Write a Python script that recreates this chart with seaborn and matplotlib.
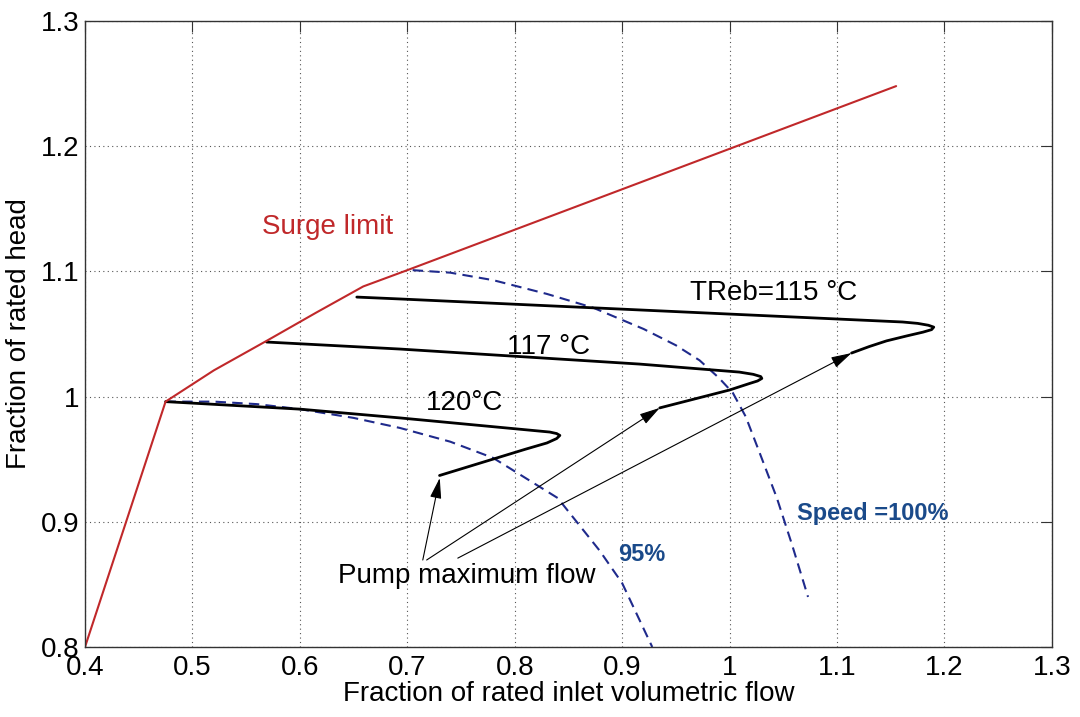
import matplotlib
matplotlib.use("Agg")
import matplotlib.pyplot as plt
import seaborn as sns
import pandas as pd

# ---- data ----
surge_x = [0.40, 0.475, 0.52, 0.57, 0.615, 0.659, 0.70, 1.155]
surge_y = [0.80, 0.996, 1.021, 1.045, 1.067, 1.088, 1.101, 1.248]

speed100_x = [0.705, 0.74, 0.78, 0.83, 0.873, 0.92, 0.95, 0.972, 0.99, 1.003, 1.015, 1.028, 1.044, 1.058, 1.073]
speed100_y = [1.101, 1.099, 1.093, 1.082, 1.071, 1.054, 1.041, 1.029, 1.015, 1.003, 0.984, 0.955, 0.919, 0.882, 0.840]

speed95_x = [0.475, 0.52, 0.56, 0.60, 0.65, 0.693, 0.74, 0.78, 0.84, 0.879, 0.90, 0.928]
speed95_y = [0.996, 0.996, 0.994, 0.990, 0.983, 0.975, 0.964, 0.951, 0.919, 0.877, 0.851, 0.800]

t115_x = [0.653, 0.693, 1.161, 1.175, 1.185, 1.190, 1.188, 1.180, 1.165, 1.146, 1.130, 1.1135]
t115_y = [1.0795, 1.078, 1.0596, 1.0585, 1.057, 1.0555, 1.0535, 1.0515, 1.0485, 1.0445, 1.040, 1.0348]

t117_x = [0.569, 0.693, 0.916, 1.009, 1.022, 1.029, 1.030, 1.026, 1.0186, 1.000, 0.935]
t117_y = [1.0436, 1.038, 1.026, 1.0196, 1.0178, 1.016, 1.0145, 1.0125, 1.0105, 1.0053, 0.991]

t120_x = [0.475, 0.60, 0.693, 0.8326, 0.839, 0.842, 0.839, 0.830, 0.810, 0.7795, 0.730]
t120_y = [0.996, 0.990, 0.983, 0.9717, 0.9705, 0.969, 0.9665, 0.963, 0.958, 0.950, 0.937]

pump_tail = [(0.7144, 0.8695), (0.718, 0.8695), (0.747, 0.871)]
pump_head = [(0.7302, 0.935), (0.935, 0.991), (1.1135, 1.0348)]

x_ticks = [0.4, 0.5, 0.6, 0.7, 0.8, 0.9, 1.0, 1.1, 1.2, 1.3]
y_ticks = [0.8, 0.9, 1.0, 1.1, 1.2, 1.3]
x_ticklabels = ["0.4", "0.5", "0.6", "0.7", "0.8", "0.9", "1", "1.1", "1.2", "1.3"]
y_ticklabels = ["0.8", "0.9", "1", "1.1", "1.2", "1.3"]

# ---- style ----
sns.set_theme(style="white")
plt.rcParams["font.family"] = ["Liberation Sans", "DejaVu Sans"]

fig = plt.figure(figsize=(10.8, 7.17), dpi=100)
ax = fig.add_axes([0.0787, 0.0976, 0.8953, 0.8731])

RED = "#c0282a"
NAVY = "#1f2a8c"
LBLUE = "#1a4a8a"

def line(xs, ys, **kw):
    df = pd.DataFrame({"x": xs, "y": ys})
    sns.lineplot(data=df, x="x", y="y", sort=False, estimator=None, ax=ax, **kw)

line(speed100_x, speed100_y, color=NAVY, lw=1.5, linestyle=(0, (5, 3)))
line(speed95_x, speed95_y, color=NAVY, lw=1.5, linestyle=(0, (5, 3)))
line(t115_x, t115_y, color="black", lw=2.0)
line(t117_x, t117_y, color="black", lw=2.0)
line(t120_x, t120_y, color="black", lw=2.0)
line(surge_x, surge_y, color=RED, lw=1.5)

for (tx, ty), (hx, hy) in zip(pump_tail, pump_head):
    ax.annotate("", xy=(hx, hy), xytext=(tx, ty),
                arrowprops=dict(arrowstyle="-|>,head_width=0.25,head_length=0.9",
                                color="black", lw=0.8,
                                mutation_scale=14, shrinkA=0, shrinkB=0))

ax.text(0.755, 0.8567, "Pump maximum flow", fontsize=20, ha="center", va="center", color="black")
ax.text(0.626, 1.1355, "Surge limit", fontsize=20, ha="center", va="center", color=RED)
ax.text(1.041, 1.0827, "TReb=115 °C", fontsize=20, ha="center", va="center", color="black")
ax.text(0.8316, 1.0396, "117 °C", fontsize=20, ha="center", va="center", color="black")
ax.text(0.7535, 0.9949, "120°C", fontsize=20, ha="center", va="center", color="black")
ax.text(1.133, 0.907, "Speed =100%", fontsize=17, fontweight="bold", ha="center", va="center", color=LBLUE)
ax.text(0.918, 0.8735, "95%", fontsize=17, fontweight="bold", ha="center", va="center", color=LBLUE)

ax.set_xlim(0.4, 1.3)
ax.set_ylim(0.8, 1.3)
ax.set_xticks(x_ticks)
ax.set_xticklabels(x_ticklabels)
ax.set_yticks(y_ticks)
ax.set_yticklabels(y_ticklabels)
ax.tick_params(axis="both", direction="in", length=8, width=0.8, color="#333333",
               labelsize=20, labelcolor="black", top=True, right=True)
ax.tick_params(axis="x", pad=6)
ax.tick_params(axis="y", pad=4)
ax.grid(True, linestyle=(0, (1, 3)), color="#555555", lw=0.8)
for s in ax.spines.values():
    s.set_color("#333333")
    s.set_linewidth(1.0)
    s.set_visible(True)

ax.set_xlabel("Fraction of rated inlet volumetric flow", fontsize=20, color="black", labelpad=0)
ax.set_ylabel("Fraction of rated head", fontsize=20, color="black", labelpad=6)

fig.savefig("out.png", dpi=100, facecolor="white")
